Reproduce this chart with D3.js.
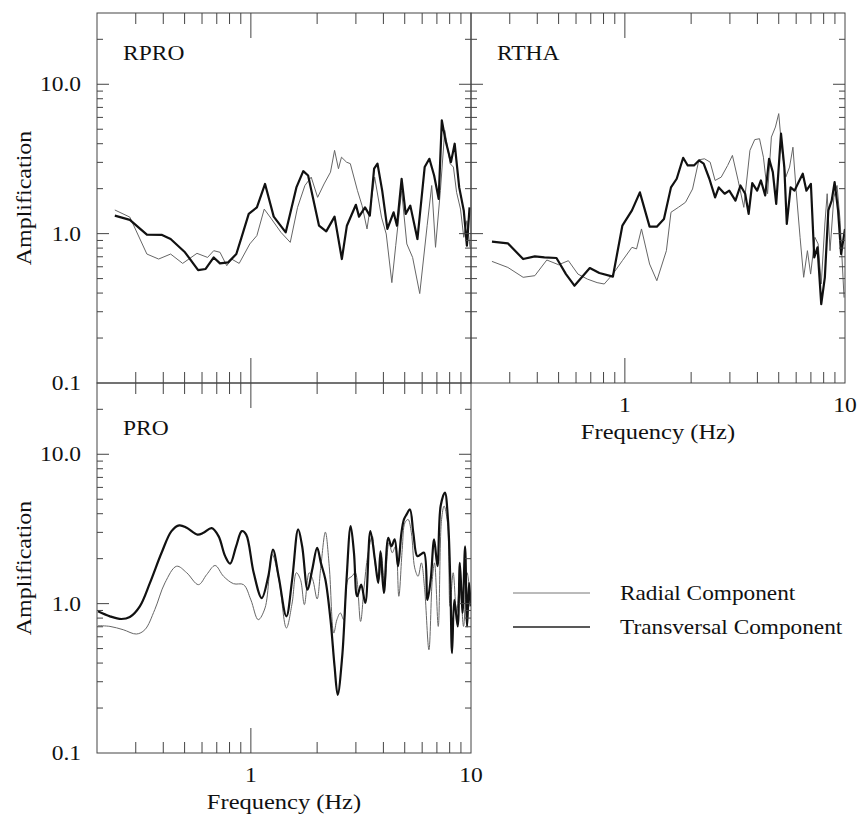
<!DOCTYPE html>
<html>
<head>
<meta charset="utf-8">
<script src="https://cdn.jsdelivr.net/npm/d3@7"></script>
<style>
  body { margin: 0; background: #fff; }
</style>
</head>
<body>
<svg id="chart" width="858" height="817"></svg>
<script>
// amplification spectra, [frequency (Hz), amplification]
const rproTransversal = [
  [0.241,1.32],[0.282,1.236],[0.337,0.985],[0.395,0.98],[0.432,0.921],[0.502,0.75],[0.576,0.57],
  [0.623,0.58],[0.678,0.693],[0.724,0.632],[0.789,0.642],[0.859,0.73],[0.907,0.945],[0.978,1.355],
  [1.065,1.50],[1.16,2.15],[1.27,1.30],[1.44,1.02],[1.61,2.04],[1.73,2.62],[1.82,2.45],[2.04,1.13],
  [2.20,1.036],[2.40,1.30],[2.59,0.676],[2.73,1.13],[3.0,1.56],[3.10,1.30],[3.30,1.50],[3.47,1.32],
  [3.63,2.72],[3.76,2.94],[3.95,1.94],[4.17,1.075],[4.45,1.39],[4.61,1.13],[4.84,2.33],[5.05,1.355],
  [5.30,1.54],[5.71,0.92],[6.16,2.79],[6.47,3.17],[6.80,2.45],[7.13,1.71],[7.37,5.73],[7.66,4.21],
  [8.11,3.01],[8.43,4.0],[8.84,2.04],[9.27,1.43],[9.58,0.83],[9.85,1.50]
];
const rproRadial = [
  [0.241,1.44],[0.282,1.29],[0.337,0.73],[0.381,0.676],[0.432,0.73],[0.490,0.632],[0.569,0.738],
  [0.636,0.693],[0.678,0.769],[0.724,0.75],[0.777,0.61],[0.817,0.676],[0.885,0.632],[0.989,0.853],
  [1.065,0.97],[1.15,1.46],[1.24,1.255],[1.37,1.02],[1.51,0.874],[1.63,1.50],[1.76,2.10],[1.88,2.39],
  [2.01,1.75],[2.15,2.15],[2.30,2.58],[2.40,3.61],[2.50,2.72],[2.58,3.25],[2.72,3.01],[2.83,2.94],
  [3.05,1.94],[3.20,1.54],[3.37,1.075],[3.65,2.39],[3.92,1.29],[4.12,0.995],[4.37,0.47],[4.55,0.83],
  [4.84,1.94],[5.11,0.853],[5.43,0.693],[5.85,0.397],[6.32,1.13],[6.63,2.10],[6.90,0.81],[7.26,1.94],
  [7.60,4.91],[8.04,2.94],[8.32,2.79],[8.6,1.89],[8.96,1.46],[9.27,0.945],[9.58,1.22],[9.9,0.81]
];
const rthaTransversal = [
  [0.249,0.884],[0.294,0.861],[0.345,0.676],[0.39,0.704],[0.431,0.693],[0.489,0.687],[0.54,0.536],
  [0.59,0.448],[0.693,0.588],[0.766,0.545],[0.882,0.515],[0.974,1.13],[1.077,1.43],[1.17,1.89],
  [1.295,1.114],[1.397,1.114],[1.505,1.255],[1.62,2.04],[1.72,2.33],[1.84,3.22],[1.93,2.86],
  [2.06,2.86],[2.17,3.09],[2.28,2.94],[2.42,2.33],[2.57,1.75],[2.67,2.04],[2.84,1.85],[2.98,1.94],
  [3.18,1.665],[3.35,2.10],[3.52,1.85],[3.65,1.355],[3.79,2.18],[3.99,1.94],[4.15,2.27],[4.34,1.80],
  [4.52,3.17],[4.70,2.58],[4.87,1.58],[5.12,4.67],[5.30,2.79],[5.44,1.16],[5.66,2.04],[5.90,1.94],
  [6.15,2.21],[6.43,2.52],[6.68,1.94],[7.0,2.15],[7.25,0.693],[7.5,0.81],[7.8,0.337],[8.1,0.51],
  [8.4,1.43],[8.7,1.665],[8.97,2.21],[9.3,1.43],[9.6,0.73],[10.0,1.075]
];
const rthaRadial = [
  [0.249,0.652],[0.294,0.594],[0.345,0.51],[0.39,0.523],[0.442,0.666],[0.50,0.619],[0.554,0.659],
  [0.612,0.536],[0.676,0.496],[0.748,0.47],[0.806,0.46],[0.882,0.536],[0.974,0.659],[1.077,0.81],
  [1.13,0.79],[1.19,1.075],[1.295,0.626],[1.397,0.484],[1.544,0.769],[1.62,1.39],[1.75,1.50],
  [1.885,1.62],[2.03,1.99],[2.17,3.12],[2.30,3.17],[2.44,3.01],[2.57,2.27],[2.74,2.39],[2.93,2.86],
  [3.08,3.34],[3.27,2.27],[3.47,1.50],[3.70,3.61],[3.89,4.26],[4.09,4.32],[4.26,3.25],[4.45,1.85],
  [4.63,4.43],[4.83,5.17],[5.0,6.36],[5.17,3.61],[5.38,2.39],[5.60,2.79],[5.80,3.79],[6.0,1.94],
  [6.25,0.945],[6.49,0.51],[6.75,0.769],[6.98,0.536],[7.3,0.945],[7.55,0.853],[7.8,0.46],[8.1,1.16],
  [8.3,1.85],[8.55,0.769],[8.9,1.75],[9.2,2.10],[9.5,1.22],[9.9,0.373]
];
const proTransversal = [
  [0.202,0.888],[0.229,0.822],[0.258,0.789],[0.282,0.814],[0.313,0.959],[0.348,1.377],[0.393,2.19],
  [0.436,3.06],[0.473,3.34],[0.511,3.22],[0.572,2.90],[0.609,2.98],[0.664,3.2],[0.713,2.83],
  [0.764,2.08],[0.805,1.855],[0.857,2.42],[0.910,3.06],[0.952,2.90],[1.03,1.61],[1.12,1.09],
  [1.20,1.525],[1.26,2.30],[1.34,1.49],[1.45,0.822],[1.54,1.45],[1.64,3.14],[1.71,2.42],[1.81,1.24],
  [1.90,1.69],[2.0,2.36],[2.08,1.875],[2.18,1.45],[2.30,0.781],[2.40,0.38],[2.48,0.245],[2.60,0.443],
  [2.72,1.45],[2.84,3.30],[2.94,2.19],[3.04,1.12],[3.17,1.34],[3.31,1.01],[3.49,3.06],[3.66,1.97],
  [3.79,1.377],[3.88,2.24],[4.02,1.18],[4.21,2.76],[4.35,2.42],[4.50,2.69],[4.66,1.78],[4.83,2.98],
  [4.96,3.66],[5.10,3.96],[5.28,4.27],[5.47,2.98],[5.70,2.08],[5.90,2.13],[6.12,2.19],[6.34,1.06],
  [6.56,1.45],[6.80,2.69],[7.04,1.78],[7.28,4.5],[7.61,5.54],[7.86,3.66],[8.05,1.45],[8.2,0.467],
  [8.4,1.06],[8.7,0.704],[8.9,1.875],[9.15,0.866],[9.4,2.42],[9.6,0.704],[9.8,1.377],[9.97,0.959]
];
const proRadial = [
  [0.202,0.712],[0.229,0.704],[0.263,0.669],[0.302,0.626],[0.33,0.669],[0.366,0.911],[0.407,1.377],
  [0.46,1.78],[0.511,1.61],[0.578,1.34],[0.63,1.565],[0.688,1.80],[0.751,1.525],[0.834,1.36],
  [0.926,1.34],[1.0,1.06],[1.08,0.781],[1.16,0.936],[1.25,2.13],[1.34,1.45],[1.45,0.687],[1.54,1.01],
  [1.61,1.61],[1.68,1.45],[1.75,0.985],[1.84,1.61],[1.91,1.45],[2.0,1.075],[2.08,1.78],[2.18,3.01],
  [2.27,1.78],[2.38,0.635],[2.46,0.781],[2.55,0.866],[2.64,0.781],[2.76,1.45],[2.88,1.525],[2.98,1.61],
  [3.15,0.76],[3.26,1.24],[3.40,2.13],[3.56,2.83],[3.68,1.78],[3.82,1.45],[3.91,2.19],[4.05,1.31],
  [4.24,2.56],[4.39,2.19],[4.54,2.42],[4.70,1.12],[4.87,2.30],[5.01,3.48],[5.18,3.66],[5.36,2.98],
  [5.55,1.735],[5.75,1.525],[5.95,1.875],[6.16,1.24],[6.44,0.491],[6.67,1.45],[6.83,1.875],[7.1,0.704],
  [7.35,3.66],[7.55,4.5],[7.82,3.48],[8.03,0.959],[8.3,1.61],[8.6,0.866],[8.9,1.377],[9.25,0.704],
  [9.6,1.61],[9.95,1.06]
];

const freqDomain = [0.2, 10];
const ampDomain = [0.1, 30];
const ampLabels = [0.1, 1, 10];
const freqLabels = [1, 10];
const legendItems = ["Radial Component", "Transversal Component"];

const serif = "'Liberation Serif', 'Times New Roman', 'DejaVu Serif', serif";
const squash = 0.86; // the scanned text is a bit flattened

const svg = d3.select("#chart");

//text helper: places a serif label, glyphs flattened like the scan
function label(parent, x, y, str, size, anchor, rotate) {
    return parent.append("text")
        .attr("transform", `translate(${x},${y})` + (rotate ? ` rotate(${rotate})` : "") + ` scale(1,${squash})`)
        .attr("text-anchor", anchor || "start")
        .attr("font-family", serif)
        .attr("font-size", size)
        .attr("fill", "#111")
        .text(str);
}

const panels = [
  { name: "RPRO", x0: 97, y0: 13, radial: rproRadial, trans: rproTransversal, yLab: true, xLab: false, smooth: false },
  { name: "RTHA", x0: 471, y0: 13, radial: rthaRadial, trans: rthaTransversal, yLab: false, xLab: true, smooth: false },
  { name: "PRO", x0: 97, y0: 383, radial: proRadial, trans: proTransversal, yLab: true, xLab: true, smooth: true }
];
const pw = 374, ph = 370;

panels.forEach((p, i) => {
  const g = svg.append("g").attr("transform", `translate(${p.x0},${p.y0})`);

  const x = d3.scaleLog().domain(freqDomain).range([0, pw]);
  const y = d3.scaleLog().domain(ampDomain).range([ph, 0]);

  //clip so the curves stay in the box
  g.append("clipPath").attr("id", "clip" + i)
    .append("rect").attr("width", pw).attr("height", ph);

  const line = d3.line()
    .x(d => x(d[0]))
    .y(d => y(d[1]))
    .curve(p.smooth ? d3.curveCatmullRom.alpha(0.5) : d3.curveLinear);

  g.append("path")
    .datum(p.radial)
    .attr("clip-path", `url(#clip${i})`)
    .attr("d", line)
    .attr("fill", "none")
    .attr("stroke", "#666")
    .attr("stroke-width", 1);

  g.append("path")
    .datum(p.trans)
    .attr("clip-path", `url(#clip${i})`)
    .attr("d", line)
    .attr("fill", "none")
    .attr("stroke", "#111")
    .attr("stroke-width", 2.2)
    .attr("stroke-linejoin", "round");

  //frame
  g.append("rect")
    .attr("width", pw).attr("height", ph)
    .attr("fill", "none").attr("stroke", "#444").attr("stroke-width", 1);

  //x ticks, inward on top and bottom
  const xt = x.ticks().filter(t => t > freqDomain[0] && t < freqDomain[1]);
  xt.forEach(t => {
    const major = Math.abs(Math.log10(t) - Math.round(Math.log10(t))) < 1e-9;
    const len = major ? 25 : 11;
    g.append("line").attr("x1", x(t)).attr("x2", x(t)).attr("y1", ph).attr("y2", ph - len)
      .attr("stroke", "#444");
    g.append("line").attr("x1", x(t)).attr("x2", x(t)).attr("y1", 0).attr("y2", len)
      .attr("stroke", "#444");
  });

  //y ticks, inward on left and right
  const yt = y.ticks().filter(t => t > ampDomain[0] && t < ampDomain[1]);
  yt.forEach(t => {
    const major = Math.abs(Math.log10(t) - Math.round(Math.log10(t))) < 1e-9;
    const len = major ? 12 : 6;
    g.append("line").attr("x1", 0).attr("x2", len).attr("y1", y(t)).attr("y2", y(t))
      .attr("stroke", "#444");
    g.append("line").attr("x1", pw).attr("x2", pw - len).attr("y1", y(t)).attr("y2", y(t))
      .attr("stroke", "#444");
  });

  //station name
  label(g, 26, i === 2 ? 52 : 47, p.name, 23.5);

  if (p.yLab) {
    ampLabels.forEach(v => {
      label(g, -16, y(v) + 7, d3.format(".1f")(v), 23.5, "end");
    });
    label(g, -66, ph / 2, "Amplification", 24, "middle", -90);
  }

  if (p.xLab) {
    freqLabels.forEach(v => {
      label(g, x(v), ph + 29, v, 23.5, "middle");
    });
    label(g, pw / 2, ph + 56, "Frequency (Hz)", 24.5, "middle");
  }
});

//legend
const legend = svg.append("g").attr("transform", "translate(513,593)");
legendItems.forEach((name, i) => {
  legend.append("line")
    .attr("x1", 0).attr("x2", 77).attr("y1", i * 34).attr("y2", i * 34)
    .attr("stroke", i === 0 ? "#777" : "#222")
    .attr("stroke-width", i === 0 ? 1 : 1.6);
  label(legend, 107, i * 34 + 7, name, 23.3);
});
</script>
</body>
</html>
